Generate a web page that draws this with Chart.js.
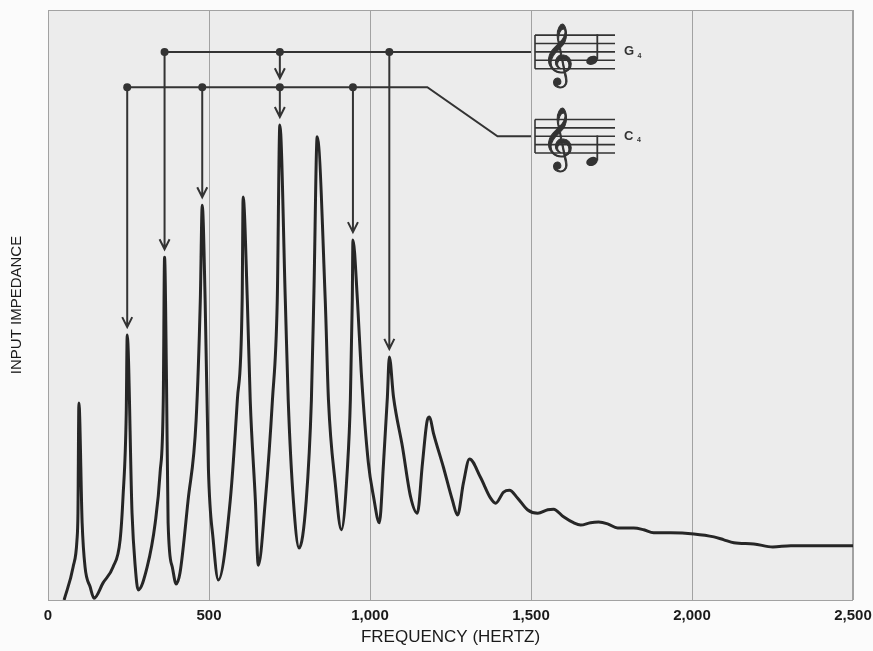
<!DOCTYPE html>
<html>
<head>
<meta charset="utf-8">
<script src="https://cdn.jsdelivr.net/npm/chart.js@4.4.1/dist/chart.umd.min.js"></script>
<style>
  html, body { margin: 0; padding: 0; background: #fbfbfb; }
  #wrap { width: 873px; height: 651px; }
</style>
</head>
<body>
<div id="wrap"><canvas id="impChart" width="873" height="651"></canvas></div>
<script>
// frequency (Hz) and input impedance (relative, 0-100)
const freqs = [50, 78, 90, 93, 96, 106, 115, 131, 143,
  171, 202, 224, 233, 243, 246, 261, 271, 280,
  308, 333, 348, 358, 362, 368, 373, 386, 398,
  410, 435, 460, 473, 479, 488, 498, 513, 529,
  566, 588, 603, 606, 619, 628, 644, 653,
  675, 697, 712, 720, 737, 746, 762, 780,
  802, 818, 826, 836, 861, 871, 892, 911,
  930, 939, 945, 947, 961, 973, 995, 1011, 1029,
  1042, 1054, 1060, 1073, 1101, 1126, 1147,
  1163, 1178, 1185, 1197, 1228, 1256, 1272,
  1290, 1309, 1343, 1374, 1390,
  1415, 1433, 1458, 1489, 1521, 1552, 1570, 1601, 1632, 1654, 1685, 1710,
  1738, 1769, 1819, 1850, 1881, 1934, 2006, 2068, 2099, 2130, 2192, 2251,
  2307, 2379, 2500];
const impedance = [0, 5.6, 10.2, 14.7, 33.4, 13.1, 5.6, 2.2, 0.3,
  2.9, 5.6, 10.2, 17.5, 31.7, 44.9, 14.7, 5.6, 1.7,
  5.6, 13.1, 21.5, 33.9, 58.1, 37.3, 13.1, 5.6, 2.7,
  4.6, 16.9, 30.5, 50.8, 66.9, 50.8, 22.5, 10.2, 3.4,
  16.9, 33.9, 50.8, 68.3, 50.8, 33.9, 16.9, 5.9,
  16.9, 33.9, 50.8, 80.5, 50.8, 33.9, 16.9, 8.8,
  16.9, 33.9, 52.5, 78.5, 50.8, 33.9, 19.8, 11.9,
  22.5, 33.9, 50.8, 61.0, 50.8, 38.5, 23.2, 17.5, 13.1,
  23.2, 34.4, 41.2, 34.4, 25.9, 17.5, 14.7,
  23.2, 30.5, 31.0, 28.3, 22.5, 16.9, 14.4,
  19.8, 23.9, 20.8, 17.3, 16.4,
  18.3, 18.6, 17.3, 15.3, 14.7, 15.3, 15.4, 14.1, 13.1, 12.7, 13.1, 13.2,
  12.9, 12.2, 12.2, 11.9, 11.4, 11.4, 11.2, 10.7, 10.2, 9.7, 9.5, 9.0,
  9.2, 9.2, 9.2];
const xTicks = [0, 500, 1000, 1500, 2000, 2500];

// resonances picked out for each note
const c4Peaks = [246, 479, 720, 947];
const g4Peaks = [362, 720, 1060];
const g4Level = 92.9;
const c4Level = 86.9;
const c4Slope = [1178, 1396];
const c4SlopeLevel = 78.6;
const staffFreq = 1500;

function peakValue(f) {
  const i = freqs.indexOf(f);
  return i >= 0 ? impedance[i] : 0;
}

const framePlugin = {
  id: 'frame',
  beforeDraw(chart) {
    const { ctx, chartArea: a } = chart;
    ctx.save();
    ctx.fillStyle = '#ececec';
    ctx.fillRect(a.left, a.top, a.right - a.left, a.bottom - a.top);
    ctx.restore();
  },
  beforeDatasetsDraw(chart) {
    const { ctx, chartArea: a } = chart;
    ctx.save();
    ctx.strokeStyle = '#a2a2a2';
    ctx.lineWidth = 1;
    ctx.strokeRect(a.left + 0.5, a.top + 0.5, a.right - a.left - 1, a.bottom - a.top);
    ctx.restore();
  }
};

function arrowDown(ctx, x, y0, y1) {
  ctx.beginPath();
  ctx.moveTo(x, y0);
  ctx.lineTo(x, y1);
  ctx.moveTo(x - 5, y1 - 10);
  ctx.lineTo(x, y1);
  ctx.lineTo(x + 5, y1 - 10);
  ctx.stroke();
}

function dot(ctx, x, y) {
  ctx.beginPath();
  ctx.arc(x, y, 4, 0, Math.PI * 2);
  ctx.fill();
}

function drawStaff(ctx, x0, midY, note, noteStep, label) {
  const gap = 8.4;
  const w = 80;
  ctx.save();
  ctx.lineWidth = 1.6;
  for (let k = -2; k <= 2; k++) {
    ctx.beginPath();
    ctx.moveTo(x0, midY + k * gap);
    ctx.lineTo(x0 + w, midY + k * gap);
    ctx.stroke();
  }
  ctx.beginPath();
  ctx.moveTo(x0, midY - 2 * gap);
  ctx.lineTo(x0, midY + 2 * gap);
  ctx.stroke();
  // clef
  ctx.font = '54px "DejaVu Sans", serif';
  ctx.textAlign = 'left';
  ctx.textBaseline = 'alphabetic';
  ctx.lineWidth = 1;
  ctx.fillText('\u{1D11E}', x0 + 7, midY + 2 * gap + 3);
  ctx.strokeText('\u{1D11E}', x0 + 7, midY + 2 * gap + 3);
  // note head + stem
  const ny = midY + noteStep * gap / 2;
  const nx = x0 + 57;
  ctx.beginPath();
  ctx.ellipse(nx, ny, 6, 4.3, -0.4, 0, Math.PI * 2);
  ctx.fill();
  ctx.lineWidth = 1.8;
  ctx.beginPath();
  ctx.moveTo(nx + 5.3, ny - 1);
  ctx.lineTo(nx + 5.3, ny - 26);
  ctx.stroke();
  // label
  ctx.font = 'bold 13px "Liberation Sans", Arial, sans-serif';
  ctx.textBaseline = 'middle';
  ctx.fillText(label, x0 + 89, midY);
  ctx.font = 'bold 7px "Liberation Sans", Arial, sans-serif';
  ctx.fillText(note, x0 + 89 + ctx.measureText(label).width + 8, midY + 4);
  ctx.restore();
}

const notesPlugin = {
  id: 'notes',
  afterDatasetsDraw(chart) {
    const { ctx, scales: { x, y } } = chart;
    const gy = y.getPixelForValue(g4Level);
    const cy = y.getPixelForValue(c4Level);
    const sx = x.getPixelForValue(staffFreq);
    ctx.save();
    ctx.strokeStyle = '#333';
    ctx.fillStyle = '#333';
    ctx.lineWidth = 2;
    ctx.lineCap = 'butt';

    // G4 leader
    ctx.beginPath();
    ctx.moveTo(x.getPixelForValue(g4Peaks[0]), gy);
    ctx.lineTo(sx, gy);
    ctx.stroke();
    // C4 leader
    ctx.beginPath();
    ctx.moveTo(x.getPixelForValue(c4Peaks[0]), cy);
    ctx.lineTo(x.getPixelForValue(c4Slope[0]), cy);
    ctx.lineTo(x.getPixelForValue(c4Slope[1]), y.getPixelForValue(c4SlopeLevel));
    ctx.lineTo(sx, y.getPixelForValue(c4SlopeLevel));
    ctx.stroke();

    g4Peaks.forEach(f => {
      const px = x.getPixelForValue(f);
      const stop = c4Peaks.includes(f) ? cy - 9 : y.getPixelForValue(peakValue(f)) - 8;
      arrowDown(ctx, px, gy, stop);
      dot(ctx, px, gy);
    });
    c4Peaks.forEach(f => {
      const px = x.getPixelForValue(f);
      arrowDown(ctx, px, cy, y.getPixelForValue(peakValue(f)) - 8);
      dot(ctx, px, cy);
    });

    drawStaff(ctx, sx + 4, gy, '4', 2, 'G');
    drawStaff(ctx, sx + 4, y.getPixelForValue(c4SlopeLevel), '4', 6, 'C');
    ctx.restore();
  }
};

const points = freqs.map((f, i) => ({ x: f, y: impedance[i] }));
const labelFamily = '"Liberation Sans Narrow", "Liberation Sans", Arial, sans-serif';

new Chart(document.getElementById('impChart'), {
  type: 'line',
  data: {
    datasets: [{
      data: points,
      borderColor: '#262626',
      borderWidth: 3,
      pointRadius: 0,
      fill: false,
      cubicInterpolationMode: 'monotone'
    }]
  },
  options: {
    responsive: false,
    animation: false,
    layout: { padding: { top: 10, right: 20, left: 0, bottom: 0 } },
    plugins: { legend: { display: false }, tooltip: { enabled: false } },
    scales: {
      x: {
        type: 'linear',
        min: 0,
        max: 2500,
        afterBuildTicks: s => { s.ticks = xTicks.map(v => ({ value: v })); },
        afterFit: s => { s.height = 51; s.paddingLeft = 0; s.paddingRight = 0; },
        ticks: {
          callback: v => v.toLocaleString('en-US'),
          color: '#1a1a1a',
          font: { family: labelFamily, size: 15, weight: 'bold' },
          padding: 7,
          maxRotation: 0
        },
        grid: { color: '#a2a2a2', lineWidth: 1, drawTicks: false },
        border: { display: false },
        title: {
          display: true,
          text: 'FREQUENCY (HERTZ)',
          color: '#1a1a1a',
          font: { family: labelFamily, size: 17 },
          padding: { top: 0, bottom: 3 }
        }
      },
      y: {
        min: 0,
        max: 100,
        afterFit: s => { s.width = 48; },
        ticks: { display: false },
        grid: { display: false },
        border: { display: false },
        title: {
          display: true,
          text: 'INPUT IMPEDANCE',
          color: '#1a1a1a',
          font: { family: '"Liberation Sans", Arial, sans-serif', size: 15 },
          padding: { top: 8, bottom: 0 }
        }
      }
    }
  },
  plugins: [framePlugin, notesPlugin]
});
</script>
</body>
</html>
